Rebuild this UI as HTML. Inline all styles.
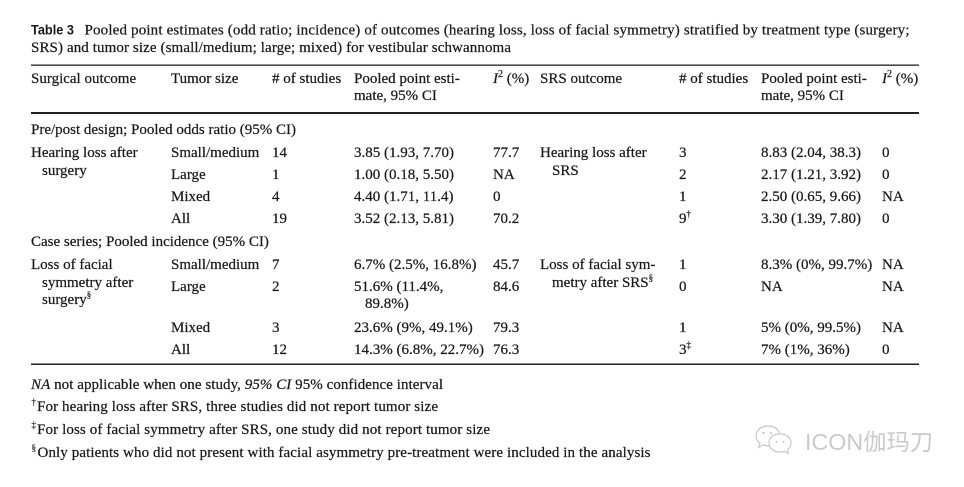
<!DOCTYPE html>
<html>
<head>
<meta charset="utf-8">
<style>
html,body{margin:0;padding:0;background:#fff;}
svg{display:block;}
text{font-family:"Liberation Serif","Noto Serif CJK SC",serif;font-size:15px;fill:#1a1718;stroke:#1a1718;stroke-width:0.22;}
.sans{font-family:"Liberation Sans",sans-serif;font-weight:bold;font-size:14px;stroke-width:0;}
.wm{font-family:"Liberation Sans","Noto Sans CJK SC",sans-serif;font-size:23px;fill:#cacaca;stroke:none;font-weight:normal;}
</style>
</head>
<body>
<svg width="964" height="487" viewBox="0 0 964 487" xmlns="http://www.w3.org/2000/svg">
<rect width="964" height="487" fill="#fff"/>

<!-- Title -->
<text class="sans" x="31" y="34.5" textLength="43" lengthAdjust="spacingAndGlyphs">Table 3</text>
<text x="84.5" y="34.5" textLength="825" lengthAdjust="spacing">Pooled point estimates (odd ratio; incidence) of outcomes (hearing loss, loss of facial symmetry) stratified by treatment type (surgery;</text>
<text x="31" y="52" textLength="480" lengthAdjust="spacing">SRS) and tumor size (small/medium; large; mixed) for vestibular schwannoma</text>

<!-- Rules -->
<rect x="31" y="64.5" width="888" height="1.3" fill="#231f20"/>
<rect x="31" y="112" width="888" height="2" fill="#231f20"/>
<rect x="31" y="363.5" width="888" height="1.5" fill="#231f20"/>

<!-- Header -->
<text x="31" y="83">Surgical outcome</text>
<text x="171" y="83">Tumor size</text>
<text x="272" y="83"># of studies</text>
<text x="354" y="83">Pooled point esti-</text>
<text x="354" y="100">mate, 95% CI</text>
<text x="493" y="83"><tspan font-style="italic">I</tspan><tspan font-size="10" dy="-6">2</tspan><tspan dy="6"> (%)</tspan></text>
<text x="540" y="83">SRS outcome</text>
<text x="679" y="83"># of studies</text>
<text x="761" y="83">Pooled point esti-</text>
<text x="761" y="100">mate, 95% CI</text>
<text x="882" y="83"><tspan font-style="italic">I</tspan><tspan font-size="10" dy="-6">2</tspan><tspan dy="6"> (%)</tspan></text>

<!-- Section 1 -->
<text x="31" y="134">Pre/post design; Pooled odds ratio (95% CI)</text>

<text x="31" y="157">Hearing loss after</text>
<text x="42" y="175">surgery</text>
<text x="171" y="157">Small/medium</text>
<text x="272" y="157">14</text>
<text x="354" y="157">3.85 (1.93, 7.70)</text>
<text x="493" y="157">77.7</text>
<text x="540" y="157">Hearing loss after</text>
<text x="552" y="175">SRS</text>
<text x="679" y="157">3</text>
<text x="761" y="157">8.83 (2.04, 38.3)</text>
<text x="882" y="157">0</text>

<text x="171" y="179">Large</text>
<text x="272" y="179">1</text>
<text x="354" y="179">1.00 (0.18, 5.50)</text>
<text x="493" y="179">NA</text>
<text x="679" y="179">2</text>
<text x="761" y="179">2.17 (1.21, 3.92)</text>
<text x="882" y="179">0</text>

<text x="171" y="201">Mixed</text>
<text x="272" y="201">4</text>
<text x="354" y="201">4.40 (1.71, 11.4)</text>
<text x="493" y="201">0</text>
<text x="679" y="201">1</text>
<text x="761" y="201">2.50 (0.65, 9.66)</text>
<text x="882" y="201">NA</text>

<text x="171" y="223">All</text>
<text x="272" y="223">19</text>
<text x="354" y="223">3.52 (2.13, 5.81)</text>
<text x="493" y="223">70.2</text>
<text x="679" y="223">9<tspan font-size="9" dy="-6">†</tspan></text>
<text x="761" y="223">3.30 (1.39, 7.80)</text>
<text x="882" y="223">0</text>

<!-- Section 2 -->
<text x="31" y="246">Case series; Pooled incidence (95% CI)</text>

<text x="31" y="269">Loss of facial</text>
<text x="42" y="287">symmetry after</text>
<text x="42" y="304">surgery<tspan font-size="9" dy="-6">§</tspan></text>
<text x="171" y="269">Small/medium</text>
<text x="272" y="269">7</text>
<text x="354" y="269">6.7% (2.5%, 16.8%)</text>
<text x="493" y="269">45.7</text>
<text x="540" y="269">Loss of facial sym-</text>
<text x="552" y="287">metry after SRS<tspan font-size="9" dy="-6">§</tspan></text>
<text x="679" y="269">1</text>
<text x="761" y="269">8.3% (0%, 99.7%)</text>
<text x="882" y="269">NA</text>

<text x="171" y="291">Large</text>
<text x="272" y="291">2</text>
<text x="354" y="291">51.6% (11.4%,</text>
<text x="365" y="308">89.8%)</text>
<text x="493" y="291">84.6</text>
<text x="679" y="291">0</text>
<text x="761" y="291">NA</text>
<text x="882" y="291">NA</text>

<text x="171" y="332">Mixed</text>
<text x="272" y="332">3</text>
<text x="354" y="332">23.6% (9%, 49.1%)</text>
<text x="493" y="332">79.3</text>
<text x="679" y="332">1</text>
<text x="761" y="332">5% (0%, 99.5%)</text>
<text x="882" y="332">NA</text>

<text x="171" y="354">All</text>
<text x="272" y="354">12</text>
<text x="354" y="354">14.3% (6.8%, 22.7%)</text>
<text x="493" y="354">76.3</text>
<text x="679" y="354">3<tspan font-size="9" dy="-6">‡</tspan></text>
<text x="761" y="354">7% (1%, 36%)</text>
<text x="882" y="354">0</text>

<!-- Footnotes -->
<text x="31" y="389" textLength="412" lengthAdjust="spacing"><tspan font-style="italic">NA</tspan> not applicable when one study, <tspan font-style="italic">95% CI</tspan> 95% confidence interval</text>
<text x="31.5" y="405" style="font-size:9px;stroke-width:0.15">†</text>
<text x="37" y="411" textLength="401" lengthAdjust="spacing">For hearing loss after SRS, three studies did not report tumor size</text>
<text x="31.5" y="428" style="font-size:9px;stroke-width:0.15">‡</text>
<text x="37" y="434" textLength="453" lengthAdjust="spacing">For loss of facial symmetry after SRS, one study did not report tumor size</text>
<text x="31.5" y="451" style="font-size:9px;stroke-width:0.15">§</text>
<text x="37.5" y="457" textLength="613" lengthAdjust="spacing">Only patients who did not present with facial asymmetry pre-treatment were included in the analysis</text>

<!-- Watermark -->
<g fill="#fff" stroke="#c8c8c8" stroke-width="1.2">
  <path d="M768,426 c-7,0 -12,4.5 -12,10 c0,3 1.5,5.5 4,7.5 l-1.5,4 l4.5,-2.5 c1.5,0.5 3,0.8 5,0.8 c7,0 12,-4.5 12,-10 c0,-5.5 -5,-9.8 -12,-9.8z"/>
  <path d="M780,434 c-6.5,0 -11,4 -11,9 c0,5 4.5,9 11,9 c1.5,0 3,-0.3 4.3,-0.7 l4,2.2 l-1,-3.5 c2.3,-1.7 3.7,-4.2 3.7,-7 c0,-5 -4.5,-9 -11,-9z"/>
</g>
<g fill="#c8c8c8">
  <circle cx="763.5" cy="433" r="1.1"/>
  <circle cx="771" cy="433" r="1.1"/>
  <circle cx="776.5" cy="442" r="1"/>
  <circle cx="783.5" cy="442" r="1"/>
</g>
<text class="wm" x="805" y="450" textLength="128" lengthAdjust="spacingAndGlyphs">ICON伽玛刀</text>
</svg>
</body>
</html>
